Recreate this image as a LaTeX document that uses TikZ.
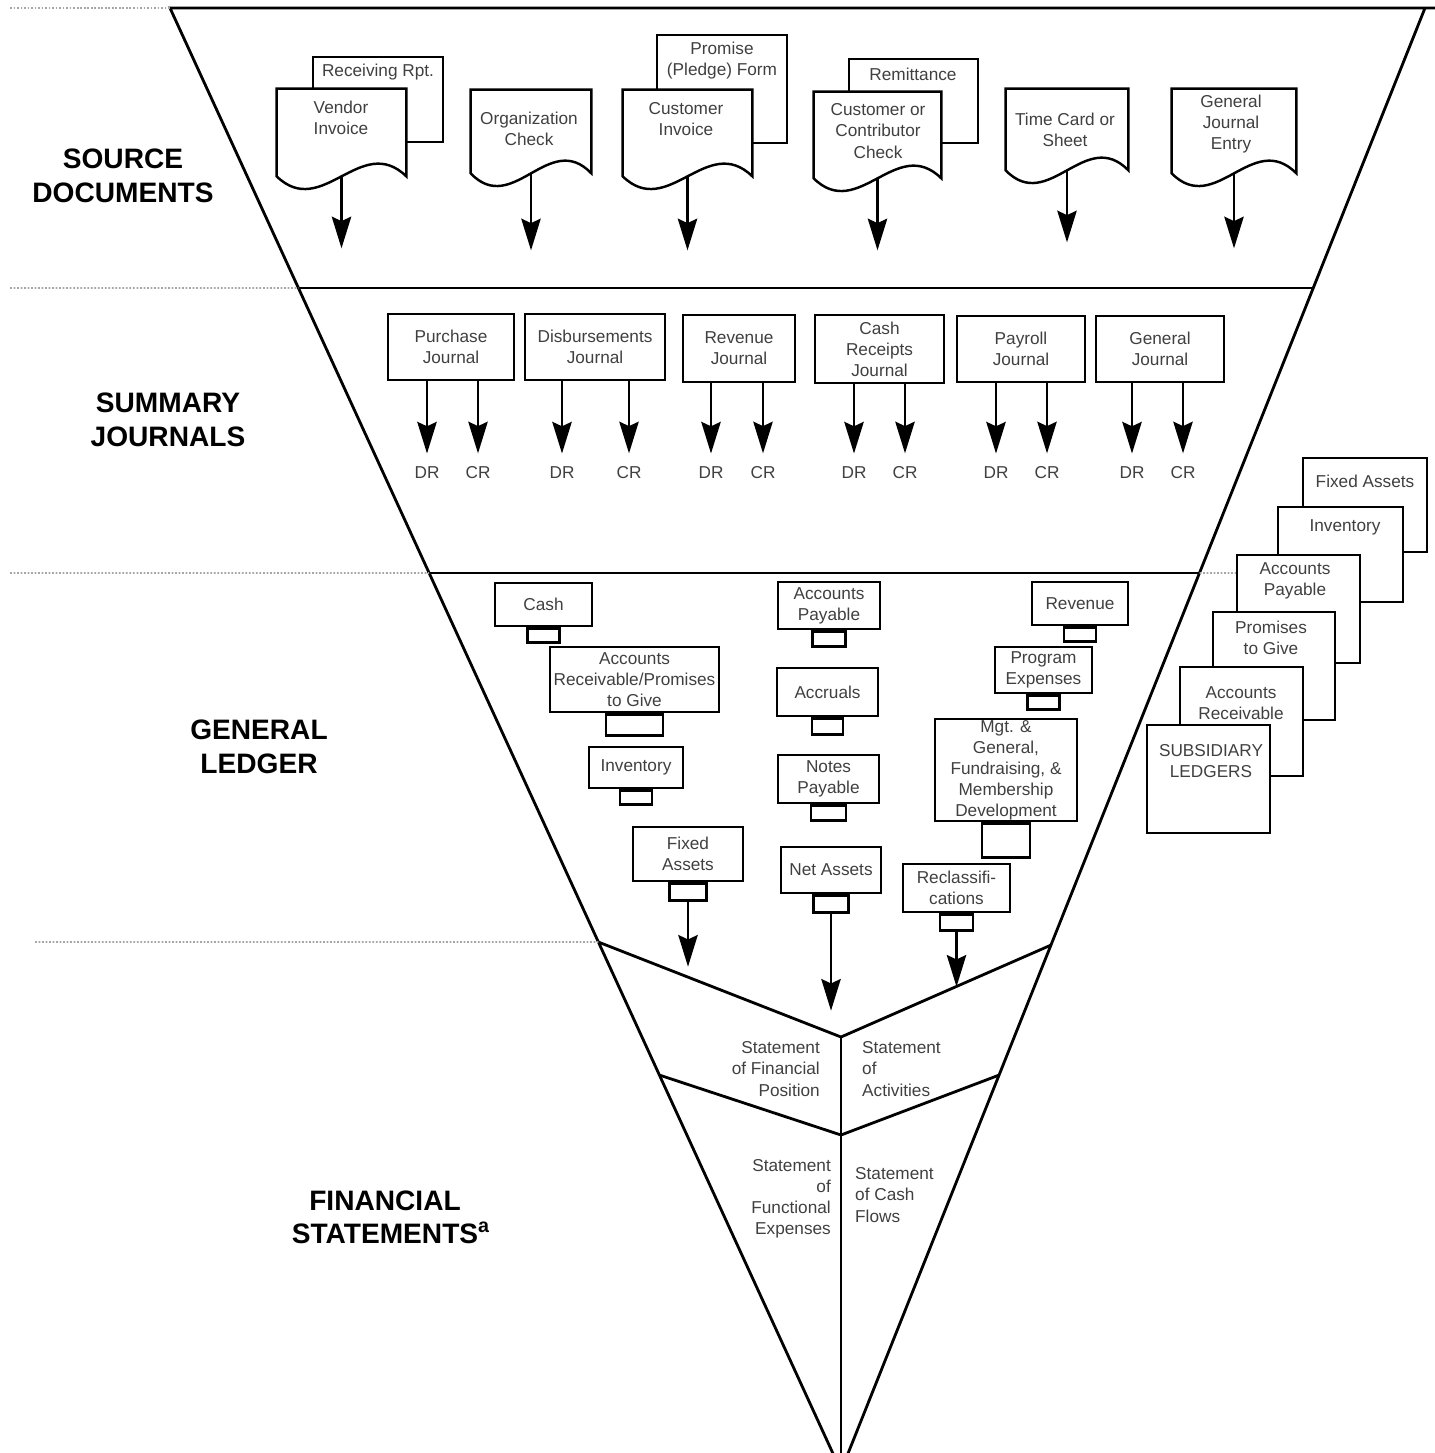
\documentclass[tikz,border=0pt]{standalone}
\usepackage{fontspec}
\setmainfont{Liberation Sans}
\usetikzlibrary{arrows.meta,calc}

\tikzset{
  txt/.style={font=\fontsize{9.8}{12}\selectfont, text=black!75, align=center},
  stage/.style={font=\fontsize{16}{19}\selectfont\bfseries, align=center},
  wh/.style 2 args={minimum width=#1*0.02cm, minimum height=#2*0.02cm},
  box/.style={draw, line width=1.4pt, fill=white, inner sep=0pt, txt},
  sheet/.style={draw, line width=1.4pt, fill=white, inner sep=0pt},
  docsheet/.style={fill=white, inner sep=0pt},
  tab/.style={draw, line width=1.4pt, inner sep=0pt},
  outline/.style={line width=1.4pt},
  funnel/.style={line width=1.6pt},
  guide/.style={gray!70, densely dotted, line width=1pt},
  flow/.style={line width=1.5pt, -{Stealth[length=18pt,width=11pt,inset=2.5pt]}},
  jflow/.style={flow, shorten >=6.5pt},
  drcr/.style={txt, inner sep=1pt},
}

\begin{document}
\begin{tikzpicture}[x=0.02cm, y=-0.02cm]
  \useasboundingbox (0,0) rectangle (1435,1453);
  \clip (0,0) rectangle (1435,1453);

  % funnel
  \coordinate (tl) at (170,8);
  \coordinate (tr) at (1425,8);
  \coordinate (apex) at (841,1471);
  \coordinate (cut1-l) at (intersection of tl--apex and 0,288--1,288);
  \coordinate (cut1-r) at (intersection of tr--apex and 0,288--1,288);
  \coordinate (cut2-l) at (intersection of tl--apex and 0,573--1,573);
  \coordinate (cut2-r) at (intersection of tr--apex and 0,573--1,573);
  \coordinate (fs-l) at (intersection of tl--apex and 0,942--1,942);
  \coordinate (fs-r) at (intersection of tr--apex and 0,945--1,945);
  \coordinate (fs-m) at (841,1037);
  \coordinate (fs2-l) at (intersection of tl--apex and 0,1075--1,1075);
  \coordinate (fs2-r) at (intersection of tr--apex and 0,1075--1,1075);
  \coordinate (fs2-m) at (841,1135);

  \draw[funnel] (1435,8) -- (tl) -- (apex) -- (tr);
  \draw[funnel] (cut1-l) -- (cut1-r);
  \draw[funnel] (cut2-l) -- (cut2-r);
  \draw[funnel] (fs-l) -- (fs-m) -- (fs-r);
  \draw[funnel] (fs2-l) -- (fs2-m) -- (fs2-r);
  \draw[funnel] (fs-m) -- (apex);

  \draw[guide] (10,8) -- (tl);
  \draw[guide] (10,288) -- (cut1-l);
  \draw[guide] (10,573) -- (cut2-l);
  \draw[guide] (cut2-r) -- (1237,573);
  \draw[guide] (35,942) -- (fs-l);

  % stages
  \node[stage] (t-src) at (123,176) {SOURCE\\DOCUMENTS};
  \node[stage] (t-sum) at (168,420) {SUMMARY\\JOURNALS};
  \node[stage] (t-gl) at (259,747) {GENERAL\\LEDGER};
  \node[stage] (t-fs) at (385,1217) {FINANCIAL\\STATEMENTS\rlap{\textsuperscript{a}}};

  % source documents
  \node[sheet, wh={130}{85}] (rcv) at (378,99.5) {};
  \node[sheet, wh={130}{108}] (pledge) at (722,89) {};
  \node[sheet, wh={129}{84}] (remit) at (913.5,101) {};
  \node[txt] (rcv-txt) at (378,72) {Receiving Rpt.};
  \node[txt] (pledge-txt) at (722,61) {Promise\\(Pledge) Form};
  \node[txt] (remit-txt) at (913,74) {Remittance};

  \node[docsheet, wh={129}{87}] (vendor) at (341.5,132.5) {};
  \node[docsheet, wh={120}{83}] (orgcheck) at (531,131.5) {};
  \node[docsheet, wh={129}{86}] (custinv) at (687.5,133) {};
  \node[docsheet, wh={127}{86}] (contrib) at (877.5,135) {};
  \node[docsheet, wh={122}{81}] (timecard) at (1067,129.5) {};
  \node[docsheet, wh={124}{84}] (gje) at (1234,131) {};
  \foreach \d in {vendor,orgcheck,custinv,contrib,timecard,gje}
    \draw[outline] (\d.south west) -- (\d.north west) -- (\d.north east) -- (\d.south east)
      .. controls ($(\d.south east)!.35!(\d.south west)+(0,-44)$)
      and ($(\d.south west)!.35!(\d.south east)+(0,44)$) .. (\d.south west) -- cycle;

  \node[txt] (vendor-txt) at (341,118) {Vendor\\Invoice};
  \node[txt] (orgcheck-txt) at (529,129) {Organization\\Check};
  \node[txt] (custinv-txt) at (686,119.5) {Customer\\Invoice};
  \node[txt] (contrib-txt) at (878,131) {Customer or\\Contributor\\Check};
  \node[txt] (timecard-txt) at (1065,130) {Time Card or\\Sheet};
  \node[txt] (gje-txt) at (1231,124) {General\\Journal\\Entry};

  \foreach \d/\l in {vendor/72, orgcheck/77, custinv/74, contrib/72, timecard/72, gje/75}
    \draw[flow] (\d.south) -- ++(0,\l) coordinate (\d-end);

  % summary journals
  \node[box, wh={126}{66}] (purch) at (451,347) {Purchase\\Journal};
  \node[box, wh={140}{66}] (disb) at (595,347) {Disbursements\\Journal};
  \node[box, wh={112}{67}] (revj) at (739,348.5) {Revenue\\Journal};
  \node[box, wh={129}{68}] (cashr) at (879.5,349) {Cash\\Receipts\\Journal};
  \node[box, wh={128}{66}] (payroll) at (1021,349) {Payroll\\Journal};
  \node[box, wh={128}{66}] (genj) at (1160,349) {General\\Journal};

  \foreach \j/\dx/\cx in {purch/427/478, disb/562/629, revj/711/763, cashr/854/905, payroll/996/1047, genj/1132/1183} {
    \node[drcr] (\j-dr) at (\dx,473) {DR};
    \node[drcr] (\j-cr) at (\cx,473) {CR};
    \draw[jflow] (\j.south -| \j-dr) -- (\j-dr.north);
    \draw[jflow] (\j.south -| \j-cr) -- (\j-cr.north);
  }

  % general ledger
  \node[box, wh={97}{43}] (cash) at (543.5,604.5) {Cash};
  \node[box, wh={169}{65}] (ar) at (634.5,679.5) {Accounts\\Receivable/Promises\\to Give};
  \node[box, wh={94}{41}] (inv) at (636,767.5) {Inventory};
  \node[box, wh={110}{54}] (fa) at (688,854) {Fixed\\Assets};
  \node[box, wh={102}{47}] (ap) at (829,605.5) {Accounts\\Payable};
  \node[box, wh={101}{48}] (accr) at (827.5,692) {Accruals};
  \node[box, wh={101}{48}] (notes) at (828.5,779) {Notes\\Payable};
  \node[box, wh={100}{46}] (netas) at (831,870) {Net Assets};
  \node[box, wh={96}{43}] (rev) at (1080,603.5) {Revenue};
  \node[box, wh={97}{46}] (prog) at (1043.5,670) {Program\\Expenses};
  \node[box, wh={142}{102}] (mgt) at (1006,770) {Mgt. \&\\General,\\Fundraising, \&\\Membership\\Development};
  \node[box, wh={107}{48}] (reclass) at (956.5,888) {Reclassifi-\\cations};
  \foreach \a/\w/\h in {cash/32/14, ar/57/21, inv/32/14, fa/37/17, ap/33/15, accr/31/16,
      notes/35/15, netas/35/17, rev/32/14, prog/32/14, mgt/48/34, reclass/33/16}
    \node[tab, wh={\w}{\h}, anchor=north] (\a-tab) at (\a.south) {};

  \foreach \a/\l in {fa/65, netas/97, reclass/55}
    \draw[flow] (\a-tab.south) -- ++(0,\l) coordinate (\a-end);

  % subsidiary ledgers
  \node[sheet, wh={124}{94}] (sub-fa) at (1365,505) {};
  \node[sheet, wh={125}{95}] (sub-inv) at (1340.5,554.5) {};
  \node[sheet, wh={123}{108}] (sub-ap) at (1298.5,609) {};
  \node[sheet, wh={122}{108}] (sub-ptg) at (1274,666) {};
  \node[sheet, wh={123}{109}] (sub-ar) at (1241.5,721.5) {};
  \node[sheet, wh={123}{108}] (sub-main) at (1208.5,779) {};
  \node[txt] (sub-fa-txt) at (1365,481) {Fixed Assets};
  \node[txt] (sub-inv-txt) at (1345,527) {Inventory};
  \node[txt] (sub-ap-txt) at (1295,581) {Accounts\\Payable};
  \node[txt] (sub-ptg-txt) at (1271,638) {Promises\\to Give};
  \node[txt] (sub-ar-txt) at (1241,703) {Accounts\\Receivable};
  \node[txt] (sub-main-txt) at (1211,761) {SUBSIDIARY\\LEDGERS};

  % financial statements
  \node[txt, align=right, anchor=east] (sfp) at (826,1069) {Statement\\of Financial\\Position};
  \node[txt, align=left, anchor=west] (soa) at (856,1069) {Statement\\of\\Activities};
  \node[txt, align=right, anchor=east] (sfe) at (837,1199) {Statement\\of\\Functional\\Expenses};
  \node[txt, align=left, anchor=west] (scf) at (849,1195) {Statement\\of Cash\\Flows};
\end{tikzpicture}
\end{document}
